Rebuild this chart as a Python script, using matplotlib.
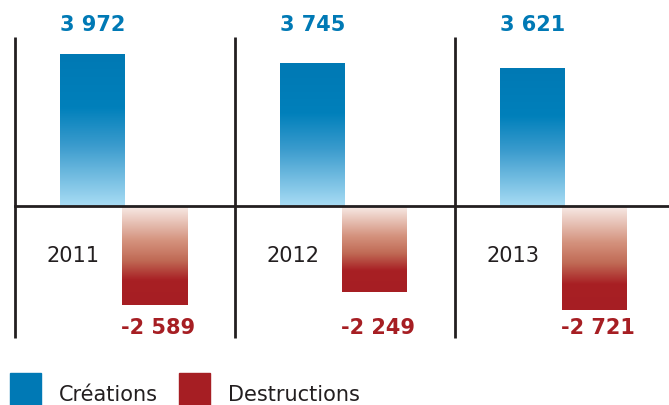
import numpy as np
import matplotlib
matplotlib.use("Agg")
import matplotlib.pyplot as plt
from matplotlib.colors import LinearSegmentedColormap
from matplotlib.patches import Rectangle

years = ["2011", "2012", "2013"]
creations = [3972, 3745, 3621]
destructions = [-2589, -2249, -2721]
creation_labels = ["3 972", "3 745", "3 621"]
destruction_labels = ["-2 589", "-2 249", "-2 721"]

blue = "#0079b5"
red = "#a61e23"
dark = "#231f20"

W, H = 669, 405
fig = plt.figure(figsize=(W / 100, H / 100), dpi=100)
ax = fig.add_axes([0, 0, 1, 1])

# pixel geometry -> data units
grp_px = 220.0
x_left_px = 15.0
zero_px = 206.0
units_per_px = 26.2

ax.axis("off")

x = np.arange(len(years))
bw = 65 / grp_px
bx_blue = x + 77.5 / grp_px
bx_red = x + 140 / grp_px

blue_cmap = LinearSegmentedColormap.from_list(
    "b", [(0, "#0079b4"), (0.35, "#0080bb"), (0.6, "#3a9bcd"), (1, "#a8dcf4")])
red_cmap = LinearSegmentedColormap.from_list(
    "r", [(0, "#f8ebe7"), (0.35, "#d4927d"), (0.55, "#c06a55"), (0.75, "#a82024"), (1, "#a61e23")])

grad = np.linspace(0, 1, 256).reshape(-1, 1)

bars_b = ax.bar(bx_blue, creations, width=bw, color="none", linewidth=0)
bars_r = ax.bar(bx_red, destructions, width=bw, color="none", linewidth=0)

for bars, cmap in [(bars_b, blue_cmap), (bars_r, red_cmap)]:
    for b in bars:
        x0, y0 = b.get_x(), b.get_y()
        w, h = b.get_width(), b.get_height()
        lo, hi = min(y0, y0 + h), max(y0, y0 + h)
        im = ax.imshow(grad, cmap=cmap, aspect="auto", origin="upper",
                       extent=[x0, x0 + w, lo, hi], zorder=2)
        im.set_clip_path(b)

ax.set_xlim(-x_left_px / grp_px, (W - x_left_px) / grp_px)
ax.set_ylim(-(H - zero_px) * units_per_px, zero_px * units_per_px)

# grid frame
y_top = (zero_px - 37) * units_per_px
y_bot = -(338 - zero_px) * units_per_px
for xv in x:
    ax.plot([xv, xv], [y_bot, y_top], color=dark, lw=2, zorder=3, solid_capstyle="butt")
ax.axhline(0, xmin=x_left_px / W, xmax=1, color=dark, lw=2, zorder=3)

# labels
y_blue_lab = (zero_px - 25) * units_per_px
y_red_lab = -(328 - zero_px) * units_per_px
y_year = -(256 - zero_px) * units_per_px
for i in range(len(years)):
    ax.text(bx_blue[i], y_blue_lab, creation_labels[i], color=blue, fontsize=15,
            fontweight="bold", ha="center", va="center")
    ax.text(bx_red[i] + 3 / grp_px, y_red_lab, destruction_labels[i], color=red, fontsize=15,
            fontweight="bold", ha="center", va="center")
    ax.text(x[i] + 58.5 / grp_px, y_year, years[i], color=dark, fontsize=15,
            ha="center", va="center")

# legend
fig.patches.append(Rectangle((10 / W, 0), 31 / W, 32 / H, transform=fig.transFigure,
                             color=blue, figure=fig))
fig.patches.append(Rectangle((179 / W, 0), 31 / W, 32 / H, transform=fig.transFigure,
                             color=red, figure=fig))
fig.text(59 / W, 4 / H, "Créations", color=dark, fontsize=15, ha="left", va="baseline")
fig.text(228 / W, 4 / H, "Destructions", color=dark, fontsize=15, ha="left", va="baseline")

fig.savefig("out.png", dpi=100)
